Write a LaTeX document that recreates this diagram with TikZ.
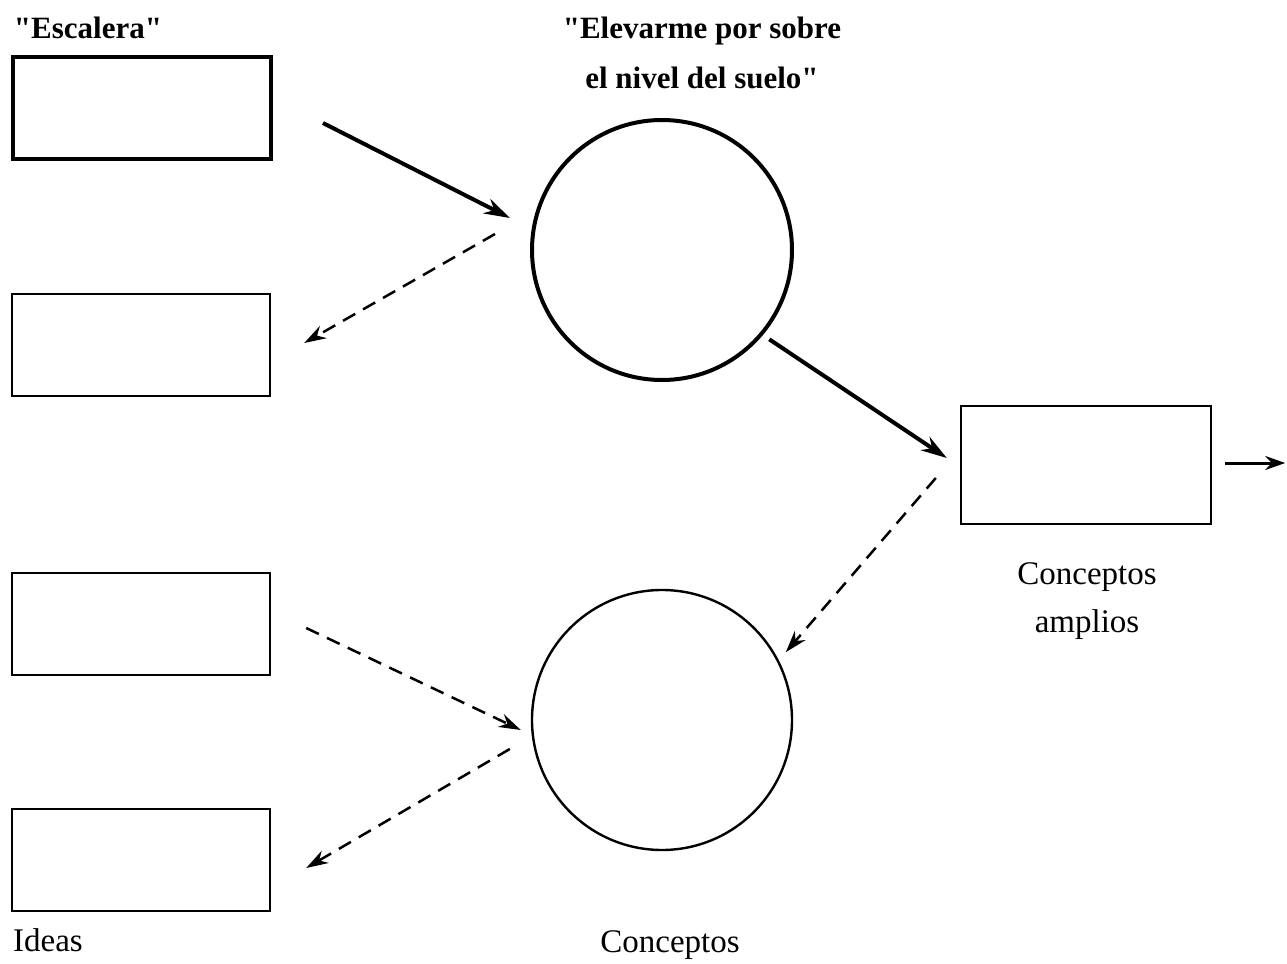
\documentclass[tikz,border=0pt]{standalone}
\usepackage{fontspec}
\setmainfont{Liberation Serif}[Ligatures=TeXOff]
\usetikzlibrary{arrows.meta}
\begin{document}
\begin{tikzpicture}[x=0.5pt,y=-0.5pt,
  every node/.style={font=\fontsize{16.5}{24}\selectfont},
  box/.style={draw,line width=1.2pt,minimum width=129pt,minimum height=51pt,inner sep=0pt},
  heavybox/.style={box,line width=2pt},
  ring/.style={draw,circle,line width=1.2pt,minimum size=130pt,inner sep=0pt},
  heavyring/.style={ring,line width=2pt},
  lbl/.style={inner sep=0pt,align=center},
  headlbl/.style={lbl,font=\fontsize{15.5}{25}\selectfont\bfseries},
  solidarrow/.style={line width=2pt,-{Stealth[length=13pt,width=8pt]}},
  dasharrow/.style={line width=1.25pt,dash pattern=on 7pt off 4.5pt,-{Stealth[length=11pt,width=7pt]}},
  thinarrow/.style={line width=1.5pt,-{Stealth[length=10pt,width=7pt]}}]
\useasboundingbox (0,0) rectangle (1287,964);

% left column of boxes
\node[heavybox] (b1) at (142,108) {};
\node[box] (b2) at (141,345) {};
\node[box] (b3) at (141,624) {};
\node[box] (b4) at (141,860) {};
% right box
\node[box,minimum width=125pt,minimum height=59pt] (b5) at (1086,465) {};
% circles
\node[heavyring] (c1) at (662,250) {};
\node[ring] (c2) at (662,720) {};

% labels
\node[headlbl] (tEsc) at (88,28) {"Escalera"};
\node[headlbl] (tElev) at (702,53) {"Elevarme por sobre\\ el nivel del suelo"};
\node[lbl] (tAmp) at (1087,601) {Conceptos\\ amplios};
\node[lbl] (tIdeas) at (48,940) {Ideas};
\node[lbl] (tConc) at (670,945) {Conceptos};

% connectors
\draw[solidarrow] ([shift={(50,15)}]b1.east) -- ([shift={(-20,-32)}]c1.west);
\draw[dasharrow] ([shift={(-35,-16)}]c1.west) -- ([shift={(33,-2)}]b2.east);
\draw[solidarrow] ([shift={(14,-4)}]c1.south east) -- ([shift={(-13,-7)}]b5.west);
\draw[thinarrow] ([shift={(13,-2)}]b5.east) -- ([shift={(73,-2)}]b5.east);
\draw[dasharrow] ([shift={(-24,13)}]b5.west) -- ([shift={(31,25)}]c2.north east);
\draw[dasharrow] ([shift={(35,4)}]b3.east) -- ([shift={(-10,10)}]c2.west);
\draw[dasharrow] ([shift={(-21,29)}]c2.west) -- ([shift={(35,8)}]b4.east);
\end{tikzpicture}
\end{document}
